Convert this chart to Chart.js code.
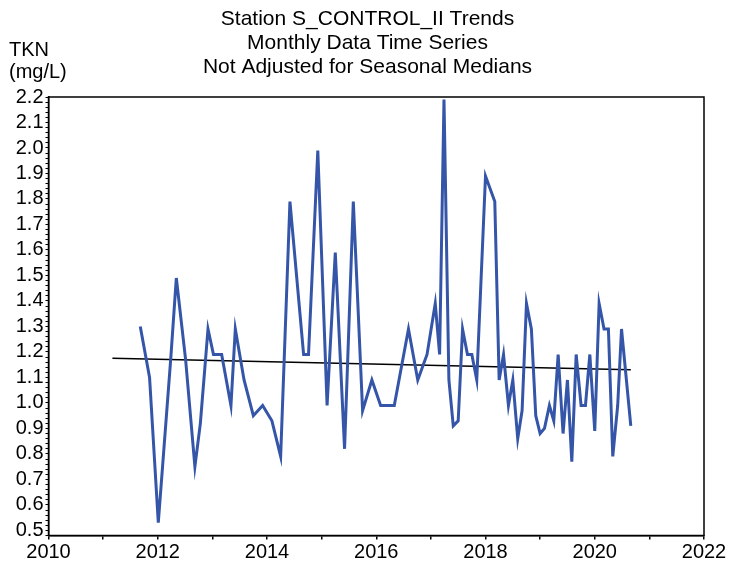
<!DOCTYPE html>
<html>
<head>
<meta charset="utf-8">
<script src="https://cdn.jsdelivr.net/npm/chart.js@4.4.1/dist/chart.umd.min.js"></script>
<style>
  html, body { margin: 0; padding: 0; background: #fff; }
  #wrap { width: 729px; height: 562px; }
</style>
</head>
<body>
<div id="wrap"><canvas id="grafico1" width="729" height="562"></canvas></div>
<script>
// Fechas en años decimales (muestras mensuales)
const sampleDates = [
    2011.68, 2011.85, 2012.01, 2012.24, 2012.34, 2012.51, 2012.68, 2012.78, 2012.92,
    2013.02, 2013.17, 2013.34, 2013.42, 2013.58, 2013.75, 2013.92,
    2014.09, 2014.25, 2014.42, 2014.67, 2014.76, 2014.93,
    2015.10, 2015.25, 2015.42, 2015.58, 2015.75, 2015.92,
    2016.08, 2016.20, 2016.33, 2016.59, 2016.76, 2016.93,
    2017.08, 2017.16, 2017.24, 2017.33, 2017.41, 2017.50, 2017.58, 2017.67, 2017.75, 2017.84,
    2018.00, 2018.17, 2018.25, 2018.33, 2018.42, 2018.50, 2018.59, 2018.67, 2018.75, 2018.84, 2018.92,
    2019.00, 2019.08, 2019.17, 2019.25, 2019.33, 2019.42, 2019.50, 2019.58, 2019.66, 2019.75, 2019.83, 2019.91,
    2020.00, 2020.08, 2020.17, 2020.25, 2020.33, 2020.42, 2020.49, 2020.66
];
const tknValues = [
    1.30, 1.10, 0.53, 1.18, 1.49, 1.17, 0.75, 0.92, 1.29,
    1.19, 1.19, 0.99, 1.29, 1.09, 0.95, 0.99,
    0.93, 0.79, 1.79, 1.19, 1.19, 1.99,
    0.99, 1.59, 0.82, 1.79, 0.97, 1.09,
    0.99, 0.99, 0.99, 1.29, 1.09, 1.19,
    1.39, 1.19, 2.19, 1.09, 0.91, 0.93, 1.29, 1.19, 1.19, 1.09,
    1.89, 1.79, 1.09, 1.19, 0.99, 1.09, 0.86, 0.97, 1.39, 1.29, 0.95,
    0.88, 0.90, 0.99, 0.93, 1.19, 0.88, 1.09, 0.77, 1.19, 0.99, 0.99, 1.19,
    0.89, 1.39, 1.29, 1.29, 0.79, 0.99, 1.29, 0.91
];
// Línea de tendencia (extremos)
const trendDates = [2011.17, 2020.66];
const trendValues = [1.175, 1.13];

const titleLines = ['Station S_CONTROL_II Trends', 'Monthly Data Time Series', 'Not Adjusted for Seasonal Medians'];
const unitLines = ['TKN', '(mg/L)'];

const FONT = '"Liberation Sans", Arial, sans-serif';

// Texto superior y marco del área del gráfico
const decorPlugin = {
    id: 'decor',
    afterDraw(chart) {
        const ctx = chart.ctx;
        const a = chart.chartArea;
        ctx.save();
        ctx.strokeStyle = '#000';
        ctx.lineWidth = 1.5;
        ctx.strokeRect(a.left, a.top, a.right - a.left, a.bottom - a.top);

        ctx.fillStyle = '#000';
        ctx.font = '21px ' + FONT;
        ctx.textAlign = 'center';
        ctx.textBaseline = 'alphabetic';
        titleLines.forEach((t, i) => ctx.fillText(t, 367.5, 25 + i * 24.2));

        ctx.font = '20px ' + FONT;
        ctx.textAlign = 'left';
        unitLines.forEach((t, i) => ctx.fillText(t, 9, 56 + i * 22));
        ctx.restore();
    }
};

const ctx = document.getElementById('grafico1').getContext('2d');

const config = {
    type: 'line',
    data: {
        datasets: [
            {
                label: 'TKN',
                data: sampleDates.map((d, i) => ({ x: d, y: tknValues[i] })),
                borderColor: '#3455a8',
                borderWidth: 3,
                pointRadius: 0,
                tension: 0,
                fill: false
            },
            {
                label: 'Tendencia',
                data: trendDates.map((d, i) => ({ x: d, y: trendValues[i] })),
                borderColor: '#000',
                borderWidth: 1.5,
                pointRadius: 0,
                fill: false
            }
        ]
    },
    options: {
        responsive: false,
        animation: false,
        layout: { padding: { top: 97, right: 25, left: 0, bottom: 0 } },
        plugins: {
            legend: { display: false },
            title: { display: false },
            tooltip: { enabled: false }
        },
        scales: {
            x: {
                type: 'linear',
                min: 2010,
                max: 2022,
                afterFit: (s) => { s.height = 26.5; },
                grid: { drawOnChartArea: false, tickLength: 4, color: '#000', lineWidth: 1.5 },
                border: { display: true, color: '#000', width: 1.5 },
                ticks: {
                    stepSize: 1,
                    autoSkip: false,
                    maxRotation: 0,
                    padding: 1,
                    color: '#000',
                    font: { family: FONT, size: 20 },
                    callback: (v) => (v % 2 === 0 ? String(v) : '')
                }
            },
            y: {
                min: 0.48,
                max: 2.2,
                afterFit: (s) => { s.width = 48.5; },
                grid: { drawOnChartArea: false, tickLength: 3, color: '#000', lineWidth: 1 },
                border: { display: true, color: '#000', width: 1.5 },
                ticks: {
                    stepSize: 0.02,
                    autoSkip: false,
                    padding: 2,
                    color: '#000',
                    font: { family: FONT, size: 20 },
                    callback: (v) => {
                        const t = v * 10;
                        return Math.abs(t - Math.round(t)) < 1e-6 ? v.toFixed(1) : '';
                    }
                }
            }
        }
    },
    plugins: [decorPlugin]
};

try {
    new Chart(ctx, config);
} catch (error) {
    console.error('Error al crear el gráfico:', error);
}
</script>
</body>
</html>
